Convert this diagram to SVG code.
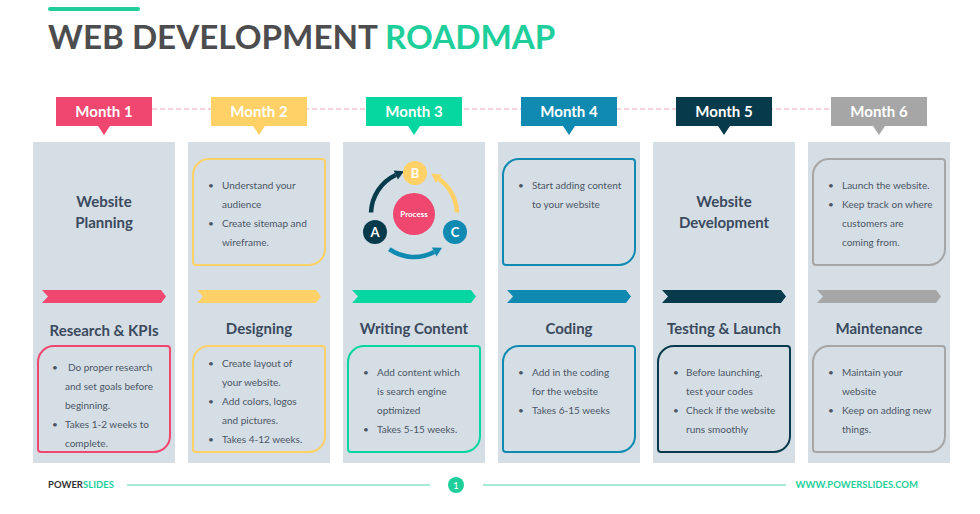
<svg xmlns="http://www.w3.org/2000/svg" width="980" height="514" viewBox="0 0 980 514">
<style>
text{font-family:Lato,"Liberation Sans",sans-serif}
.col{fill:#d5dde5}
.mlab{font-size:15px;font-weight:700;fill:#fff;text-anchor:middle}
.head{font-size:15px;font-weight:700;fill:#3b4a5d;text-anchor:middle}
.txt{font-size:10px;fill:#4b5664}
.box{fill:none;stroke-width:2}
.abc{font-size:13px;font-weight:700;fill:#fff;text-anchor:middle}
.foot{font-size:9.5px;font-weight:700}
</style>
<rect width="980" height="514" fill="#fff"/>
<g id="title">
<line x1="50" y1="9" x2="138" y2="9" stroke="#1ecf9c" stroke-width="4" stroke-linecap="round"/>
<text x="48" y="49" font-size="33.2" font-weight="700" fill="#4d4d4f">WEB DEVELOPMENT <tspan fill="#1ecf9c">ROADMAP</tspan></text>
</g>
<g id="connectors">
<line x1="104" y1="109" x2="879" y2="109" stroke="#f0a3b3" stroke-width="1.2" stroke-dasharray="5 3"/>
</g>
<g id="month1">
<rect class="col" x="33" y="142" width="142" height="321"/>
<path d="M56 97H152V126H110L104 135L98 126H56Z" fill="#ef476f"/>
<text class="mlab" x="104" y="117">Month 1</text>
<text class="head" x="104" y="207">Website</text>
<text class="head" x="104" y="228">Planning</text>
<polygon points="42,290 161,290 166,296.5 161,303 42,303 48,296.5" fill="#ef476f"/>
<text class="head" x="104" y="336">Research &amp; KPIs</text>
<path class="box" stroke="#ef476f" d="M38 362A16 16 0 0 1 54 346H167A3 3 0 0 1 170 349V436A16 16 0 0 1 154 452H41A3 3 0 0 1 38 449Z"/>
<g class="txt"><text x="52" y="371">•</text><text x="68" y="371">Do proper research</text><text x="65" y="390">and set goals before</text><text x="65" y="409">beginning.</text><text x="52" y="428">•</text><text x="65" y="428">Takes 1-2 weeks to</text><text x="65" y="447">complete.</text></g>
</g>
<g id="month2">
<rect class="col" x="188" y="142" width="142" height="321"/>
<path d="M211 97H307V126H265L259 135L253 126H211Z" fill="#ffd166"/>
<text class="mlab" x="259" y="117">Month 2</text>
<path class="box" stroke="#ffd166" d="M193 175A16 16 0 0 1 209 159H322A3 3 0 0 1 325 162V249A16 16 0 0 1 309 265H196A3 3 0 0 1 193 262Z"/>
<g class="txt"><text x="208" y="189">•</text><text x="222" y="189">Understand your</text><text x="222" y="208">audience</text><text x="208" y="227">•</text><text x="222" y="227">Create sitemap and</text><text x="222" y="246">wireframe.</text></g>
<polygon points="197,290 316,290 321,296.5 316,303 197,303 203,296.5" fill="#ffd166"/>
<text class="head" x="259" y="334">Designing</text>
<path class="box" stroke="#ffd166" d="M193 362A16 16 0 0 1 209 346H322A3 3 0 0 1 325 349V436A16 16 0 0 1 309 452H196A3 3 0 0 1 193 449Z"/>
<g class="txt"><text x="208" y="367">•</text><text x="222" y="367">Create layout of</text><text x="222" y="386">your website.</text><text x="208" y="405">•</text><text x="222" y="405">Add colors, logos</text><text x="222" y="424">and pictures.</text><text x="208" y="443">•</text><text x="222" y="443">Takes 4-12 weeks.</text></g>
</g>
<g id="month3">
<rect class="col" x="343" y="142" width="142" height="321"/>
<path d="M366 97H462V126H420L414 135L408 126H366Z" fill="#06d6a0"/>
<text class="mlab" x="414" y="117">Month 3</text>
<g id="process">
<path d="M371.03 212.5A43 43 0 0 1 395.8 175" fill="none" stroke="#073b4c" stroke-width="4.5"/>
<polygon points="404,171.2 393.7,170.5 397.9,179.5" fill="#073b4c"/>
<path d="M456.97 212.5A43 43 0 0 0 438.66 178.77" fill="none" stroke="#ffd166" stroke-width="4.5"/>
<polygon points="431.3,173.6 441.5,174.7 435.8,182.9" fill="#ffd166"/>
<path d="M389.3 249.2A43 43 0 0 0 434.2 252" fill="none" stroke="#118ab2" stroke-width="4.5"/>
<polygon points="442.1,247.8 436.5,256.4 431.9,247.6" fill="#118ab2"/>
<circle cx="414" cy="214" r="21" fill="#ef476f"/>
<text x="414" y="217" font-size="8" font-weight="700" fill="#fff" text-anchor="middle">Process</text>
<circle cx="415" cy="173" r="12" fill="#ffd166"/>
<text class="abc" x="415" y="178">B</text>
<circle cx="375" cy="232" r="12" fill="#073b4c"/>
<text class="abc" x="375" y="237">A</text>
<circle cx="455" cy="232" r="12" fill="#118ab2"/>
<text class="abc" x="455" y="237">C</text>
</g>
<polygon points="352,290 471,290 476,296.5 471,303 352,303 358,296.5" fill="#06d6a0"/>
<text class="head" x="414" y="334">Writing Content</text>
<path class="box" stroke="#06d6a0" d="M348 362A16 16 0 0 1 364 346H477A3 3 0 0 1 480 349V436A16 16 0 0 1 464 452H351A3 3 0 0 1 348 449Z"/>
<g class="txt"><text x="363" y="376">•</text><text x="377" y="376">Add content which</text><text x="377" y="395">is search engine</text><text x="377" y="414">optimized</text><text x="363" y="433">•</text><text x="377" y="433">Takes 5-15 weeks.</text></g>
</g>
<g id="month4">
<rect class="col" x="498" y="142" width="142" height="321"/>
<path d="M521 97H617V126H575L569 135L563 126H521Z" fill="#118ab2"/>
<text class="mlab" x="569" y="117">Month 4</text>
<path class="box" stroke="#118ab2" d="M503 175A16 16 0 0 1 519 159H632A3 3 0 0 1 635 162V249A16 16 0 0 1 619 265H506A3 3 0 0 1 503 262Z"/>
<g class="txt"><text x="518" y="189">•</text><text x="532" y="189">Start adding content</text><text x="532" y="208">to your website</text></g>
<polygon points="507,290 626,290 631,296.5 626,303 507,303 513,296.5" fill="#118ab2"/>
<text class="head" x="569" y="334">Coding</text>
<path class="box" stroke="#118ab2" d="M503 362A16 16 0 0 1 519 346H632A3 3 0 0 1 635 349V436A16 16 0 0 1 619 452H506A3 3 0 0 1 503 449Z"/>
<g class="txt"><text x="518" y="376">•</text><text x="532" y="376">Add in the coding</text><text x="532" y="395">for the website</text><text x="518" y="414">•</text><text x="532" y="414">Takes 6-15 weeks</text></g>
</g>
<g id="month5">
<rect class="col" x="653" y="142" width="142" height="321"/>
<path d="M676 97H772V126H730L724 135L718 126H676Z" fill="#073b4c"/>
<text class="mlab" x="724" y="117">Month 5</text>
<text class="head" x="724" y="207">Website</text>
<text class="head" x="724" y="228">Development</text>
<polygon points="662,290 781,290 786,296.5 781,303 662,303 668,296.5" fill="#073b4c"/>
<text class="head" x="724" y="334">Testing &amp; Launch</text>
<path class="box" stroke="#073b4c" d="M658 362A16 16 0 0 1 674 346H787A3 3 0 0 1 790 349V436A16 16 0 0 1 774 452H661A3 3 0 0 1 658 449Z"/>
<g class="txt"><text x="673" y="376">•</text><text x="686" y="376">Before launching,</text><text x="686" y="395">test your codes</text><text x="673" y="414">•</text><text x="686" y="414">Check if the website</text><text x="686" y="433">runs smoothly</text></g>
</g>
<g id="month6">
<rect class="col" x="808" y="142" width="142" height="321"/>
<path d="M831 97H927V126H885L879 135L873 126H831Z" fill="#a6a6a6"/>
<text class="mlab" x="879" y="117">Month 6</text>
<path class="box" stroke="#a6a6a6" d="M813 175A16 16 0 0 1 829 159H942A3 3 0 0 1 945 162V249A16 16 0 0 1 929 265H816A3 3 0 0 1 813 262Z"/>
<g class="txt"><text x="828" y="189">•</text><text x="842" y="189">Launch the website.</text><text x="828" y="208">•</text><text x="842" y="208">Keep track on where</text><text x="842" y="227">customers are</text><text x="842" y="246">coming from.</text></g>
<polygon points="817,290 936,290 941,296.5 936,303 817,303 823,296.5" fill="#a6a6a6"/>
<text class="head" x="879" y="334">Maintenance</text>
<path class="box" stroke="#a6a6a6" d="M813 362A16 16 0 0 1 829 346H942A3 3 0 0 1 945 349V436A16 16 0 0 1 929 452H816A3 3 0 0 1 813 449Z"/>
<g class="txt"><text x="828" y="376">•</text><text x="842" y="376">Maintain your</text><text x="842" y="395">website</text><text x="828" y="414">•</text><text x="842" y="414">Keep on adding new</text><text x="842" y="433">things.</text></g>
</g>
<g id="footer">
<text class="foot" x="48" y="488" fill="#333">POWER<tspan fill="#1ecf9c">SLIDES</tspan></text>
<line x1="127" y1="485" x2="430" y2="485" stroke="#a9e9d8" stroke-width="2"/>
<line x1="483" y1="485" x2="786" y2="485" stroke="#a9e9d8" stroke-width="2"/>
<circle cx="456" cy="485" r="8" fill="#1ecf9c"/>
<text x="456" y="489" font-size="10" fill="#fff" text-anchor="middle">1</text>
<text class="foot" x="918" y="488" fill="#1ecf9c" text-anchor="end">WWW.POWERSLIDES.COM</text>
</g>
</svg>
